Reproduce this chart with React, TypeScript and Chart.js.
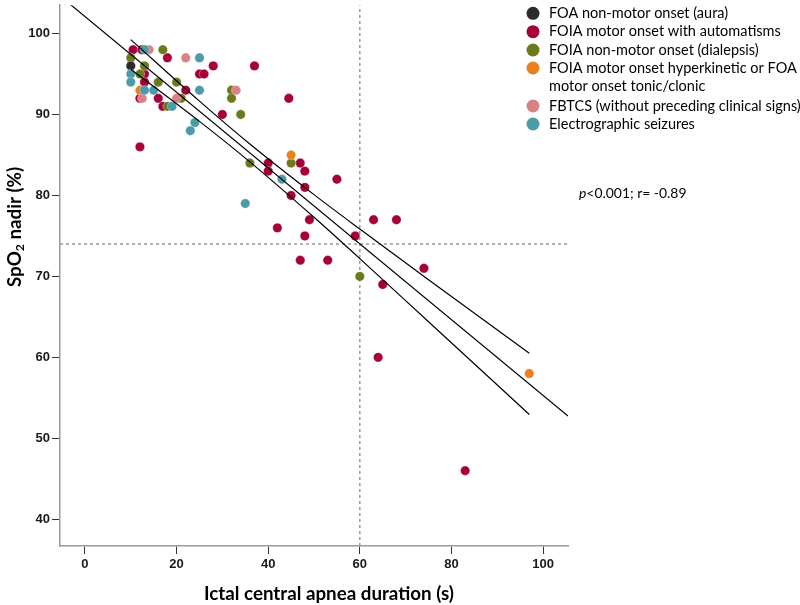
import React, { useEffect, useRef } from "react";
import { Chart, registerables } from "chart.js";

Chart.register(...registerables);

// ---- axes ----
const xTicks = [0, 20, 40, 60, 80, 100];
const yTicks = [40, 50, 60, 70, 80, 90, 100];
const xMin = -5.45;
const xMax = 105.45;
const yMin = 36.7;
const yMax = 103.5;

// ---- series (x = apnea duration s, y = SpO2 nadir %) ----
const auraPts = [[10, 96]];
const automatismPts = [
  [10.5, 98], [12.4, 98], [18, 97], [28, 96], [37, 96], [13, 95], [25, 95], [26, 95],
  [13, 94], [22, 93], [12, 92], [16, 92], [44.5, 92], [17, 91], [30, 90], [12, 86],
  [40, 84], [47, 84], [40, 83], [48, 83], [55, 82], [48, 81], [45, 80], [49, 77],
  [63, 77], [68, 77], [42, 76], [48, 75], [59, 75], [47, 72], [53, 72], [74, 71],
  [65, 69], [64, 60], [83, 46],
];
const dialepsisPts = [
  [17, 98], [10, 97], [13, 96], [12, 95], [16, 94], [20, 94], [32, 93], [32, 92],
  [21, 92], [18, 91], [34, 90], [36, 84], [45, 84], [60, 70],
];
const hyperkineticPts = [[12, 93], [45, 85], [97, 58]];
const fbtcsPts = [[14, 98], [22, 97], [33, 93], [12.5, 92], [20, 92]];
const electroPts = [
  [13, 98], [25, 97], [10, 95], [10, 94], [13, 93], [15, 93], [25, 93], [19, 91],
  [24, 89], [23, 88], [43, 82], [35, 79],
];

const seriesLabels = [
  ["FOA non-motor onset (aura)"],
  ["FOIA motor onset with automatisms"],
  ["FOIA non-motor onset (dialepsis)"],
  ["FOIA motor onset hyperkinetic or FOA", "motor onset tonic/clonic"],
  ["FBTCS (without preceding clinical signs)"],
  ["Electrographic seizures"],
];
const seriesColors = ["#2b2b2b", "#a5003a", "#6c7a1c", "#e8811f", "#d88286", "#4c9ba8"];

// regression fit and confidence band
const fitLine = [[-5.45, 104.65], [105.45, 52.75]];
const ciUpper = [[10, 99.25], [25, 91.65], [36, 86.35], [50, 80.1], [60, 75.85], [75, 69.6], [97, 60.5]];
const ciLower = [[10, 95.6], [25, 89.15], [36, 84.15], [50, 77.3], [60, 72.2], [75, 64.4], [97, 52.95]];

// reference lines
const refX = 60;
const refY = 74;

const statP = "p";
const statRest = "<0.001; r= -0.89";
const xTitle = "Ictal central apnea duration (s)";
const yTitleA = "SpO";
const yTitleSub = "2";
const yTitleB = " nadir (%)";

const toXY = (arr: number[][]) => arr.map(([x, y]) => ({ x, y }));

function fitSize(ctx: CanvasRenderingContext2D, text: string, weight: string, family: string, target: number) {
  ctx.font = `${weight} 100px ${family}`;
  const w = ctx.measureText(text).width;
  return (100 * target) / w;
}

const decorPlugin = {
  id: "decor",
  afterDraw(chart: any) {
    const ctx: CanvasRenderingContext2D = chart.ctx;
    ctx.save();
    // legend
    const legFam = "Lato, 'Open Sans', sans-serif";
    const legSize = fitSize(ctx, seriesLabels[1][0], "normal", legFam, 232);
    ctx.font = `normal ${legSize}px ${legFam}`;
    ctx.textBaseline = "middle";
    ctx.textAlign = "left";
    const rowY = [13.3, 31.7, 50, 68, 106, 124];
    seriesLabels.forEach((lines, i) => {
      ctx.fillStyle = seriesColors[i];
      ctx.beginPath();
      ctx.arc(533, rowY[i], 6.5, 0, Math.PI * 2);
      ctx.fill();
      ctx.fillStyle = "#000";
      lines.forEach((ln, j) => ctx.fillText(ln, 549, rowY[i] + j * 18.7));
    });

    // stat annotation
    const statSize = fitSize(ctx, statP + statRest, "normal", legFam, 108);
    ctx.font = `italic ${statSize}px ${legFam}`;
    ctx.fillText(statP, 579, 194);
    const pw = ctx.measureText(statP).width;
    ctx.font = `normal ${statSize}px ${legFam}`;
    ctx.fillText(statRest, 579 + pw, 194);

    // x title
    const titleSize = fitSize(ctx, xTitle, "bold", legFam, 250);
    ctx.font = `bold ${titleSize}px ${legFam}`;
    ctx.textAlign = "center";
    ctx.fillStyle = "#000";
    ctx.fillText(xTitle, 329, 594);

    // y title rotated
    ctx.translate(15, 227);
    ctx.rotate(-Math.PI / 2);
    const big = `bold ${titleSize}px ${legFam}`;
    const small = `bold ${titleSize * 0.65}px ${legFam}`;
    ctx.font = big;
    const wa = ctx.measureText(yTitleA).width;
    const wb = ctx.measureText(yTitleB).width;
    ctx.font = small;
    const ws = ctx.measureText(yTitleSub).width;
    const total = wa + ws + wb;
    let x0 = -total / 2;
    ctx.textAlign = "left";
    ctx.font = big;
    ctx.fillText(yTitleA, x0, 0);
    x0 += wa;
    ctx.font = small;
    ctx.fillText(yTitleSub, x0, titleSize * 0.28);
    x0 += ws;
    ctx.font = big;
    ctx.fillText(yTitleB, x0, 0);
    ctx.restore();
  },
};

export default function App() {
  const ref = useRef<HTMLCanvasElement | null>(null);
  useEffect(() => {
    if (!ref.current) return;
    const pointSets = [auraPts, automatismPts, dialepsisPts, hyperkineticPts, fbtcsPts, electroPts];
    const pointOrder = [6, 10, 9, 8, 7, 5];
    const lineDs = (data: number[][], order: number, extra: any = {}) => ({
      type: "scatter",
      data: toXY(data),
      showLine: true,
      pointRadius: 0,
      borderColor: "#000",
      borderWidth: 1.2,
      backgroundColor: "#000",
      order,
      ...extra,
    });
    const datasets: any[] = [
      lineDs(fitLine, 1),
      lineDs(ciUpper, 2, { cubicInterpolationMode: "monotone" }),
      lineDs(ciLower, 3, { cubicInterpolationMode: "monotone" }),
      lineDs([[xMin, refY], [xMax, refY]], 20, { borderColor: "#9a9a9a", borderWidth: 1.5, borderDash: [3, 3] }),
      lineDs([[refX, yMin], [refX, yMax]], 21, { borderColor: "#9a9a9a", borderWidth: 1.5, borderDash: [3, 3] }),
      ...pointSets.map((pts, i) => ({
        type: "scatter",
        data: toXY(pts),
        pointRadius: 4.7,
        pointHoverRadius: 4.7,
        pointBackgroundColor: seriesColors[i],
        pointBorderColor: "rgba(255,255,255,0.6)",
        pointBorderWidth: 0.5,
        showLine: false,
        order: pointOrder[i],
      })),
    ];
    const tickFont = { family: "'Liberation Sans', Arial, sans-serif", weight: "bold" as const, size: 13 };
    const chart = new Chart(ref.current, {
      type: "scatter",
      data: { datasets },
      options: {
        animation: false,
        responsive: false,
        maintainAspectRatio: false,
        events: [],
        layout: { padding: { left: 0, right: 232, top: 0, bottom: 0 } },
        plugins: { legend: { display: false }, tooltip: { enabled: false }, title: { display: false } },
        scales: {
          x: {
            type: "linear",
            min: xMin,
            max: xMax,
            afterBuildTicks: (s: any) => { s.ticks = xTicks.map((v) => ({ value: v })); },
            afterFit: (s: any) => { s.height = 59; s.paddingLeft = 0; s.paddingRight = 0; },
            ticks: { font: tickFont, color: "#1a1a1a", padding: 3, maxRotation: 0, autoSkip: false },
            grid: { drawOnChartArea: false, drawTicks: true, tickLength: 8, color: "#333", lineWidth: 1 },
            border: { display: true, color: "#9a9a9a", width: 1.5 },
          },
          y: {
            type: "linear",
            min: yMin,
            max: yMax,
            afterBuildTicks: (s: any) => { s.ticks = yTicks.map((v) => ({ value: v })); },
            afterFit: (s: any) => { s.width = 60; s.paddingTop = 0; s.paddingBottom = 0; },
            ticks: { font: tickFont, color: "#1a1a1a", padding: 2, autoSkip: false },
            grid: { drawOnChartArea: false, drawTicks: true, tickLength: 8, color: "#333", lineWidth: 1 },
            border: { display: true, color: "#9a9a9a", width: 1.5 },
          },
        },
      } as any,
      plugins: [decorPlugin],
    });
    return () => chart.destroy();
  }, []);
  return (
    <div style={{ position: "fixed", left: 0, top: 0, width: 800, height: 605, background: "#fff" }}>
      <canvas ref={ref} width={800} height={605} style={{ display: "block", width: 800, height: 605 }} />
    </div>
  );
}
